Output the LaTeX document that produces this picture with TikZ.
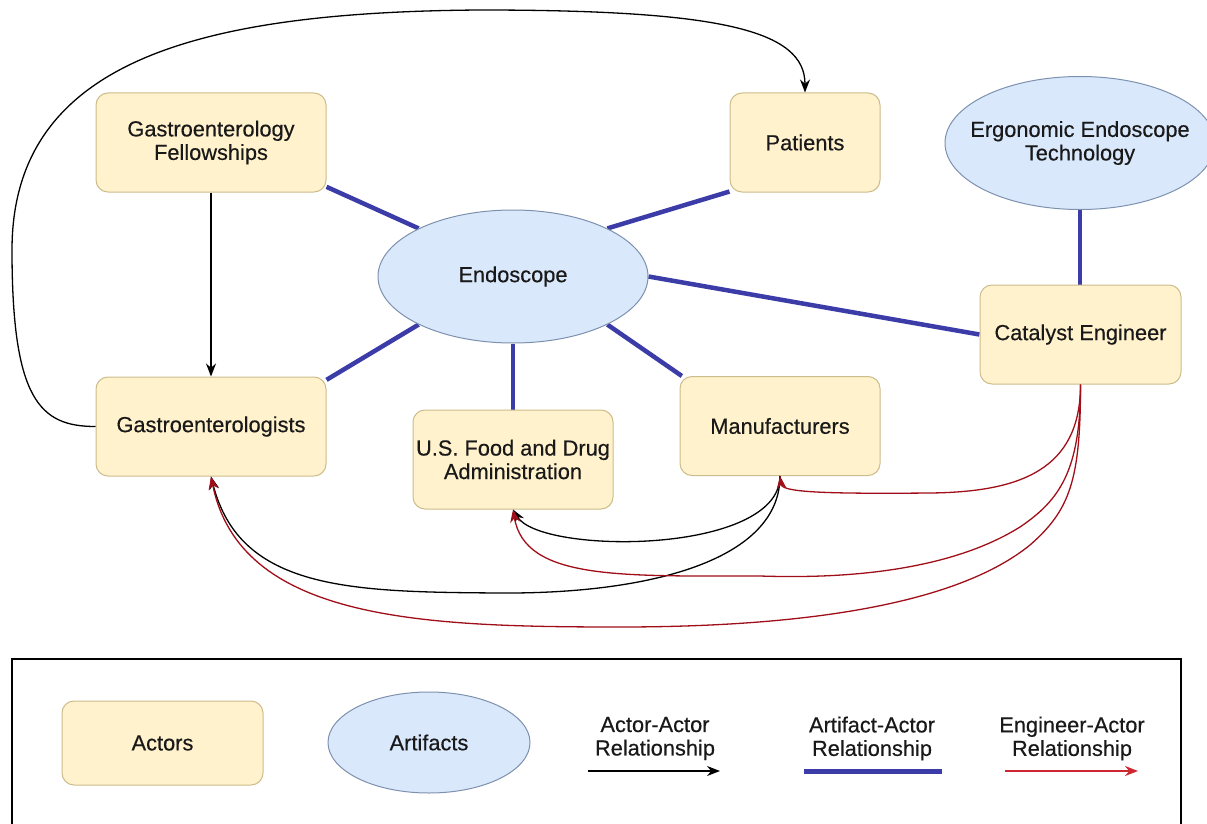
\documentclass[tikz,border=0pt]{standalone}
\usepackage{fontspec}
\setmainfont{Liberation Sans}[FakeBold=0.4]
\usetikzlibrary{arrows.meta,shapes.geometric,backgrounds}
\definecolor{actfill}{RGB}{255,242,204}
\definecolor{actline}{RGB}{205,188,140}
\definecolor{artfill}{RGB}{218,232,252}
\definecolor{artline}{RGB}{125,145,175}
\definecolor{relblue}{RGB}{60,60,168}
\definecolor{relred}{RGB}{160,15,25}
\definecolor{legred}{RGB}{205,40,50}
\definecolor{txt}{RGB}{25,25,25}
\tikzset{
  txtfont/.style={text=txt, font=\fontsize{21.8}{23.5}\selectfont},
  actor/.style={draw=actline, fill=actfill, rounded corners=12pt, line width=1pt, align=center, inner sep=0pt, txtfont},
  artifact/.style={ellipse, draw=artline, fill=artfill, line width=1pt, align=center, inner sep=0pt, txtfont},
  legtext/.style={align=center, inner sep=0pt, txtfont},
  aarel/.style={draw=black, line width=1.3pt, -{Stealth[length=13pt,width=10pt]}},
  arrel/.style={draw=relblue, line width=4.5pt},
  earel/.style={draw=relred, line width=1.3pt, -{Stealth[length=13pt,width=10pt]}},
}
\begin{document}
\begin{tikzpicture}[x=1pt,y=-1pt]
\useasboundingbox (0,0) rectangle (1207,824);

% actors and artifacts
\node[actor, minimum width=230pt, minimum height=99pt] (gf) at (211,142.5) {Gastroenterology\\Fellowships};
\node[actor, minimum width=150pt, minimum height=99pt] (pat) at (805,142.5) {Patients};
\node[artifact, inner xsep=-20pt, minimum width=270pt, minimum height=133pt] (erg) at (1080,143) {Ergonomic Endoscope\\Technology};
\node[artifact, minimum width=270pt, minimum height=133pt] (endo) at (513,276.5) {Endoscope};
\node[actor, minimum width=201pt, minimum height=99pt] (cat) at (1080.5,334.5) {Catalyst Engineer};
\node[actor, minimum width=230pt, minimum height=99pt] (gastro) at (211,426.5) {Gastroenterologists};
\node[actor, minimum width=200pt, minimum height=99pt] (fda) at (513,459.5) {U.S. Food and Drug\\Administration};
\node[actor, minimum width=200pt, minimum height=99pt] (manu) at (780,426) {Manufacturers};

% artifact-actor relationships (behind the shapes)
\begin{scope}[on background layer]
\fill[white] (0,0) rectangle (1207,824);
\draw[arrel] (gf.-21.3) -- (endo.153);
\draw[arrel] (pat.213) -- (endo.27);
\draw[arrel] (endo.east) -- (cat.west);
\draw[arrel] (endo.207) -- (gastro.22.7);
\draw[arrel] (endo.south) -- (fda.north);
\draw[arrel] (endo.-27) -- (manu.153);
\draw[arrel] (erg.south) -- (erg.south |- cat.north);
\end{scope}

% actor-actor relationships
\draw[aarel] (gf.south) -- (gastro.north);
\draw[aarel] (gastro.west) .. controls (40,426.5) and (12,400) .. (12,250)
  .. controls (12,60) and (200,12) .. (480,10)
  .. controls (720,10) and (805,30) .. (pat.north);
\draw[aarel] (manu.south) .. controls (780,555) and (540,555) .. (fda.south);
\draw[aarel] (manu.south) .. controls (780,560) and (650,594) .. (500,593)
  .. controls (350,592) and (240,590) .. (gastro.south);

% engineer-actor relationships
\draw[earel] (cat.south) .. controls (1080.5,470) and (1020,492) .. (930,493)
  .. controls (820,494) and (782,492) .. (manu.south);
\draw[earel] (cat.south) .. controls (1080.5,470) and (1060,500) .. (1020,527)
  .. controls (940,577) and (820,578) .. (760,576)
  .. controls (620,576) and (525,580) .. (fda.south);
\draw[earel] (cat.south) .. controls (1080.5,480) and (1070,510) .. (1030,545)
  .. controls (950,610) and (780,627) .. (620,627)
  .. controls (420,627) and (240,620) .. (gastro.south);

% legend
\node[draw=black, line width=1.5pt, minimum width=1169pt, minimum height=171pt, inner sep=0pt] (legend) at (596.5,744.5) {};
\node[actor, minimum width=201pt, minimum height=84pt] (lact) at (162.5,743) {Actors};
\node[artifact, minimum width=202pt, minimum height=101pt] (lart) at (429,742.5) {Artifacts};
\node[legtext] (laa) at (655,738.5) {Actor-Actor\\Relationship};
\node[legtext] (lar) at (872,738.5) {Artifact-Actor\\Relationship};
\node[legtext] (lea) at (1072,738.5) {Engineer-Actor\\Relationship};
\coordinate (aas) at (588,771);
\coordinate (aae) at (720,771);
\coordinate (ars) at (804,771);
\coordinate (are) at (942,771);
\coordinate (eas) at (1005,771);
\coordinate (eae) at (1138,771);
\draw[aarel] (aas) -- (aae);
\draw[draw=relblue, line width=5pt] (ars) -- (are);
\draw[earel, draw=legred] (eas) -- (eae);
\end{tikzpicture}
\end{document}
